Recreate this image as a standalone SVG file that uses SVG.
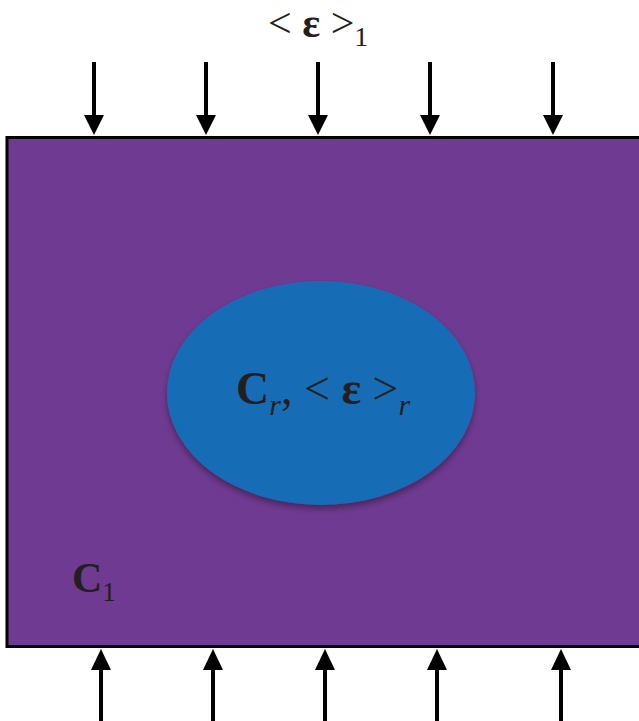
<svg xmlns="http://www.w3.org/2000/svg" width="639" height="721" viewBox="0 0 639 721">
<defs>
<filter id="sh" x="-10%" y="-10%" width="120%" height="130%">
<feGaussianBlur in="SourceAlpha" stdDeviation="3"/>
<feOffset dy="4"/>
<feComponentTransfer><feFuncA type="linear" slope="0.35"/></feComponentTransfer>
<feMerge><feMergeNode/><feMergeNode in="SourceGraphic"/></feMerge>
</filter>
</defs>
<style>
.t{font-family:"Liberation Serif","Times New Roman",serif;fill:#231f20}
.b{font-weight:bold}
.i{font-style:italic}
.ln{stroke:#000;stroke-width:4}
.hd{fill:#000}
</style>
<rect width="639" height="721" fill="#fff"/>
<g id="matrix">
<rect x="7" y="137.5" width="640" height="509" fill="#6f3a91" stroke="#000" stroke-width="3"/>
<text class="t" x="72" y="592" font-size="42"><tspan class="b">C</tspan><tspan font-size="27" dy="9">1</tspan></text>
</g>
<g id="inclusion">
<ellipse cx="321" cy="393" rx="154" ry="112" fill="#176db5" filter="url(#sh)"/>
<text class="t" x="236" y="404" font-size="46"><tspan class="b">C</tspan><tspan class="i" font-size="30" dy="11">r</tspan><tspan dy="-11">, &lt;</tspan><tspan class="b"> ε </tspan><tspan>&gt;</tspan><tspan class="i" font-size="30" dy="11">r</tspan></text>
</g>
<g id="label-top">
<text class="t" x="268" y="37" font-size="42">&lt;<tspan class="b"> ε </tspan>&gt;<tspan font-size="28" dy="9">1</tspan></text>
</g>
<g id="connectors">
<g id="top-arrows">
<line class="ln" x1="94" y1="62" x2="94" y2="118"/><polygon class="hd" points="84,115 104,115 94,135"/>
<line class="ln" x1="206" y1="62" x2="206" y2="118"/><polygon class="hd" points="196,115 216,115 206,135"/>
<line class="ln" x1="318" y1="62" x2="318" y2="118"/><polygon class="hd" points="308,115 328,115 318,135"/>
<line class="ln" x1="430" y1="62" x2="430" y2="118"/><polygon class="hd" points="420,115 440,115 430,135"/>
<line class="ln" x1="553" y1="62" x2="553" y2="118"/><polygon class="hd" points="543,115 563,115 553,135"/>
</g>
<g id="bottom-arrows">
<line class="ln" x1="101" y1="721" x2="101" y2="668"/><polygon class="hd" points="91,670 111,670 101,649"/>
<line class="ln" x1="213" y1="721" x2="213" y2="668"/><polygon class="hd" points="203,670 223,670 213,649"/>
<line class="ln" x1="325" y1="721" x2="325" y2="668"/><polygon class="hd" points="315,670 335,670 325,649"/>
<line class="ln" x1="437" y1="721" x2="437" y2="668"/><polygon class="hd" points="427,670 447,670 437,649"/>
<line class="ln" x1="561" y1="721" x2="561" y2="668"/><polygon class="hd" points="551,670 571,670 561,649"/>
</g>
</g>
</svg>
